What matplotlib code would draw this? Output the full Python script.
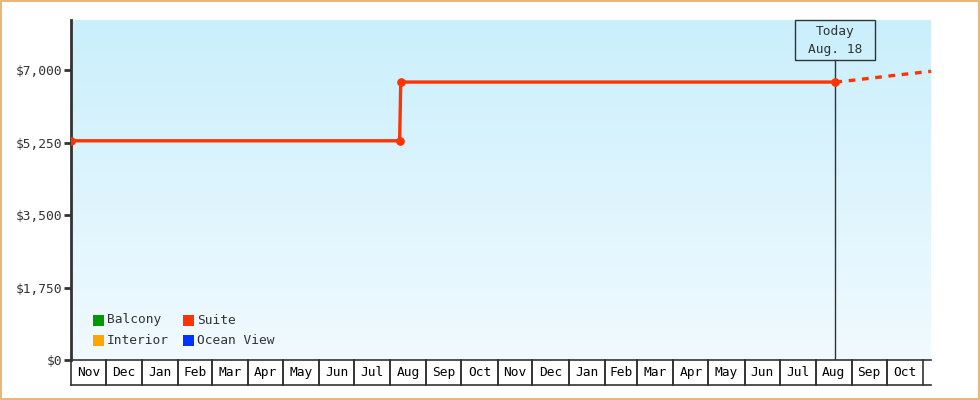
import matplotlib
matplotlib.use("Agg")
import matplotlib.pyplot as plt
import matplotlib.dates as mdates
import matplotlib.transforms as mtrans
from matplotlib.patches import Rectangle
import numpy as np
import datetime as dt

# ---- data ----
suite_dates = ["2023-11-01", "2024-08-09", "2024-08-10", "2025-08-18"]
suite_values = [5300, 5300, 6720, 6720]
proj_dates = ["2025-08-18", "2025-09-01", "2025-10-01", "2025-11-08"]
proj_values = [6720, 6760, 6860, 6980]
legend_names = ["Balcony", "Suite", "Interior", "Ocean View"]
legend_colors = ["#009900", "#ff3300", "#ffa500", "#0033ff"]
y_ticks = [0, 1750, 3500, 5250, 7000]
x_start, x_end = "2023-11-01", "2025-11-08"
today = "2025-08-18"
today_label = "Today\nAug. 18"
y_max = 8220

FONT = "DejaVu Sans Mono"
DARK = "#333333"
FS = 9.3

def d(s):
    return mdates.date2num(dt.datetime.strptime(s, "%Y-%m-%d"))

fig = plt.figure(figsize=(9.8, 4.0), dpi=100)
fig.patch.set_facecolor("white")
fig.patches.append(Rectangle((0.6/980, 0.6/400), 1 - 1.2/980, 1 - 1.2/400, transform=fig.transFigure,
                             fill=False, edgecolor="#e8a860", lw=1.2, zorder=0))

AX_L, AX_B, AX_W, AX_H = 71, 40, 860, 340
ax = fig.add_axes([AX_L/980, AX_B/400, AX_W/980, AX_H/400])
x0, x1 = d(x_start), d(x_end)
ax.set_xlim(x0, x1)
ax.set_ylim(0, y_max)

# gradient background
grad = np.linspace(0, 1, 256).reshape(-1, 1)
top = np.array([202, 239, 252]) / 255
bot = np.array([241, 250, 255]) / 255
img = top * (1 - grad[..., None]) + bot * grad[..., None]
img = img.reshape(256, 1, 3)
ax.imshow(img, extent=[x0, x1, 0, y_max], aspect="auto", zorder=0, origin="upper")

for s in ["top", "right"]:
    ax.spines[s].set_visible(False)
ax.spines["left"].set_color(DARK)
ax.spines["left"].set_linewidth(2)
ax.spines["bottom"].set_color(DARK)
ax.spines["bottom"].set_linewidth(1.2)

ax.set_yticks(y_ticks)
ax.set_yticklabels([f"${v:,}" for v in y_ticks], fontfamily=FONT, fontsize=FS, color=DARK)
ax.tick_params(axis="y", length=5, width=2, color=DARK, pad=1)
ax.set_xticks([])

# month cells below the axis
trans = mtrans.blended_transform_factory(ax.transData, ax.transAxes)
cell_h = 25 / AX_H
months = []
cur = dt.date(2023, 11, 1)
end_d = dt.datetime.strptime(x_end, "%Y-%m-%d").date()
while cur < end_d:
    nxt = dt.date(cur.year + (cur.month == 12), cur.month % 12 + 1, 1)
    months.append((cur, nxt))
    cur = nxt
for a, b in months:
    xa = mdates.date2num(a)
    xb = mdates.date2num(b)
    if xb <= x1:
        ax.plot([xa, xa], [0, -cell_h], transform=trans, color=DARK, lw=1.2, clip_on=False)
        ax.plot([xb, xb], [0, -cell_h], transform=trans, color=DARK, lw=1.2, clip_on=False)
        ax.text((xa + xb) / 2, -cell_h / 2, a.strftime("%b"), transform=trans, ha="center",
                va="center", fontfamily=FONT, fontsize=FS, color="black")
ax.plot([x0, x1], [-cell_h, -cell_h], transform=trans, color=DARK, lw=1.2, clip_on=False)

# series
sx = [d(s) for s in suite_dates]
ax.plot(sx, suite_values, color="#ff3300", lw=2.4, marker="o", markersize=5.2, zorder=5)
px = [d(s) for s in proj_dates]
ax.plot(px, proj_values, color="#ff3300", lw=2.4, linestyle=(0, (2, 2)), zorder=5, clip_on=False)

# today marker
td = d(today)
ax.plot([td, td], [0, 1 - 40/AX_H], transform=trans, color=DARK, lw=1.0, zorder=4)
tpx = AX_L + (td - x0) / (x1 - x0) * AX_W
fig.patches.append(Rectangle(((tpx - 40) / 980, (400 - 60) / 400), 80 / 980, 40 / 400,
                             transform=fig.transFigure, facecolor="none", edgecolor=DARK,
                             lw=1.0, zorder=6))
fig.text(tpx / 980, (400 - 41) / 400, today_label, ha="center", va="center",
         fontfamily=FONT, fontsize=FS, color=DARK, linespacing=1.5, zorder=7)

# legend
lx = [93, 183]
ly = [320, 340]
for i, (name, col) in enumerate(zip(legend_names, legend_colors)):
    cx = lx[i % 2]
    cy = ly[i // 2]
    fig.patches.append(Rectangle((cx / 980, (400 - cy - 5.5) / 400), 11 / 980, 11 / 400,
                                 transform=fig.transFigure, facecolor=col, edgecolor="none", zorder=10))
    fig.text((cx + 14) / 980, (400 - cy) / 400, name, ha="left", va="center",
             fontfamily=FONT, fontsize=FS, color=DARK, zorder=10)

fig.savefig("out.png", dpi=100)
